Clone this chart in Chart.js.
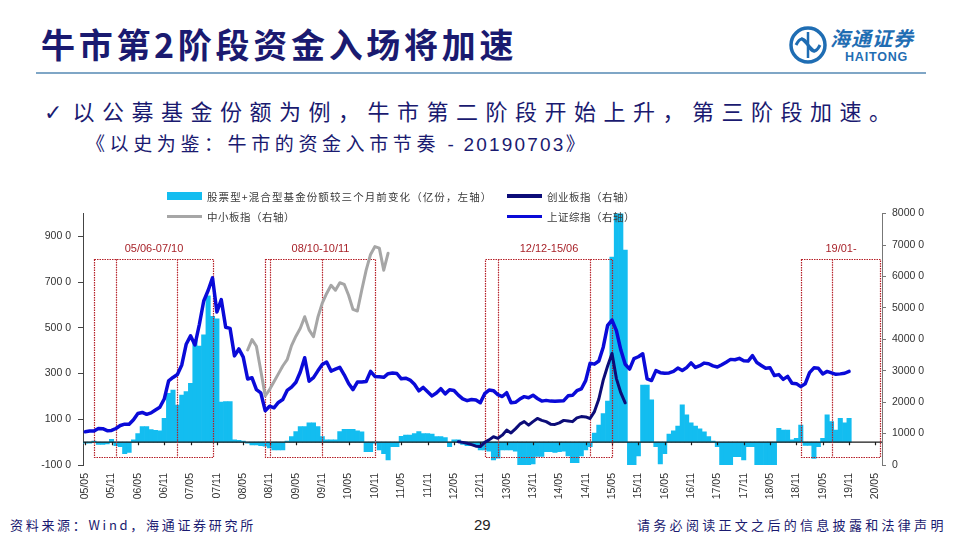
<!DOCTYPE html>
<html lang="zh-CN">
<head>
<meta charset="utf-8">
<title>牛市第2阶段资金入场将加速</title>
<script src="https://cdn.jsdelivr.net/npm/chart.js@4.4.1/dist/chart.umd.min.js"></script>
<style>
  html, body { margin: 0; padding: 0; background: #fff; }
  #page { position: relative; width: 960px; height: 540px; overflow: hidden; font-family: "Noto Sans CJK SC", sans-serif; }
  .abs { position: absolute; white-space: nowrap; }
  #title { left: 41px; top: 24px; font-size: 34px; line-height: 40px; font-weight: bold; color: #1a1a70; letter-spacing: 3.7px; }
  #rule { left: 36px; top: 72px; width: 890px; height: 2px; background: #7fa6c6; }
  #brand-cn { left: 830px; top: 25px; font-size: 20px; line-height: 26px; font-style: italic; font-weight: bold; color: #1f6db3; letter-spacing: 1px; }
  #brand-en { left: 845px; top: 50px; font-family: Arial, "Liberation Sans", sans-serif; font-size: 12.5px; line-height: 14px; font-weight: bold; color: #1f6db3; letter-spacing: 0.8px; }
  #logo { left: 788px; top: 25px; }
  #bullet { left: 44px; top: 94px; font-size: 22px; line-height: 32px; color: #1a1a70; letter-spacing: 7.5px; }
  #bullet .tick { font-family: "DejaVu Sans", sans-serif; margin-right: 10px; letter-spacing: 0; }
  #source-note { left: 86px; top: 130px; font-size: 19px; line-height: 26px; color: #1a1a70; letter-spacing: 4.6px; }
  #source-note .num { font-family: Arial, "Liberation Sans", sans-serif; letter-spacing: 2.2px; }
  #chartBox { left: 0; top: 200px; width: 960px; height: 310px; }
  #legend { left: 0; top: 0; width: 960px; height: 230px; pointer-events: none; z-index: 2; }
  .lg { position: absolute; display: flex; align-items: center; height: 14px; font-size: 10.5px; color: #3a3a3a; letter-spacing: 0.5px; }
  .lg.wide { letter-spacing: 1.1px; }
  .lg i { display: inline-block; width: 35px; margin-right: 5px; }
  #foot-left { left: 10px; top: 515px; font-size: 13px; line-height: 20px; color: #1a1a70; letter-spacing: 2.7px; }
  #foot-mid { left: 474px; top: 515px; font-family: Arial, "Liberation Sans", sans-serif; font-size: 15px; line-height: 20px; color: #222; }
  #foot-right { left: 637px; top: 515px; font-size: 13px; line-height: 20px; color: #1a1a70; letter-spacing: 3.3px; }
</style>
</head>
<body>
<div id="page">
  <div id="title" class="abs">牛市第2阶段资金入场将加速</div>
  <div id="rule" class="abs"></div>
  <svg id="logo" class="abs" width="40" height="40" viewBox="0 0 40 40">
    <circle cx="20" cy="20" r="17" fill="none" stroke="#1f6db3" stroke-width="3.5"/>
    <path d="M8 20 C12 12, 16 12, 20 20 S28 28, 32 20" fill="none" stroke="#1f6db3" stroke-width="3"/>
    <path d="M20 7 L20 33 M13 13 L27 27" fill="none" stroke="#1f6db3" stroke-width="2.5"/>
  </svg>
  <div id="brand-cn" class="abs">海通证券</div>
  <div id="brand-en" class="abs">HAITONG</div>
  <div id="bullet" class="abs"><span class="tick">✓</span>以公募基金份额为例，牛市第二阶段开始上升，第三阶段加速。</div>
  <div id="source-note" class="abs">《以史为鉴：牛市的资金入市节奏<span class="num"> - 20190703</span>》</div>
  <div id="chartBox" class="abs"><canvas id="chart" width="960" height="310"></canvas></div>
  <div id="legend" class="abs"></div>
  <div id="foot-left" class="abs">资料来源：Wind，海通证券研究所</div>
  <div id="foot-mid" class="abs">29</div>
  <div id="foot-right" class="abs">请务必阅读正文之后的信息披露和法律声明</div>
</div>
<script>
"use strict";
// monthly categories, 2005/05 - 2020/06
const MONTHS = [
    "05/05", "05/06", "05/07", "05/08", "05/09", "05/10", "05/11", "05/12",
    "06/01", "06/02", "06/03", "06/04", "06/05", "06/06", "06/07", "06/08", "06/09", "06/10", "06/11", "06/12",
    "07/01", "07/02", "07/03", "07/04", "07/05", "07/06", "07/07", "07/08", "07/09", "07/10", "07/11", "07/12",
    "08/01", "08/02", "08/03", "08/04", "08/05", "08/06", "08/07", "08/08", "08/09", "08/10", "08/11", "08/12",
    "09/01", "09/02", "09/03", "09/04", "09/05", "09/06", "09/07", "09/08", "09/09", "09/10", "09/11", "09/12",
    "10/01", "10/02", "10/03", "10/04", "10/05", "10/06", "10/07", "10/08", "10/09", "10/10", "10/11", "10/12",
    "11/01", "11/02", "11/03", "11/04", "11/05", "11/06", "11/07", "11/08", "11/09", "11/10", "11/11", "11/12",
    "12/01", "12/02", "12/03", "12/04", "12/05", "12/06", "12/07", "12/08", "12/09", "12/10", "12/11", "12/12",
    "13/01", "13/02", "13/03", "13/04", "13/05", "13/06", "13/07", "13/08", "13/09", "13/10", "13/11", "13/12",
    "14/01", "14/02", "14/03", "14/04", "14/05", "14/06", "14/07", "14/08", "14/09", "14/10", "14/11", "14/12",
    "15/01", "15/02", "15/03", "15/04", "15/05", "15/06", "15/07", "15/08", "15/09", "15/10", "15/11", "15/12",
    "16/01", "16/02", "16/03", "16/04", "16/05", "16/06", "16/07", "16/08", "16/09", "16/10", "16/11", "16/12",
    "17/01", "17/02", "17/03", "17/04", "17/05", "17/06", "17/07", "17/08", "17/09", "17/10", "17/11", "17/12",
    "18/01", "18/02", "18/03", "18/04", "18/05", "18/06", "18/07", "18/08", "18/09", "18/10", "18/11", "18/12",
    "19/01", "19/02", "19/03", "19/04", "19/05", "19/06", "19/07", "19/08", "19/09", "19/10", "19/11", "19/12",
    "20/01", "20/02", "20/03", "20/04", "20/05", "20/06",
];

// 股票型+混合型基金份额较三个月前变化 (亿份), from 05/05
const FUND_CHANGE = [
    -5, -5, 5, -10, -10, -8, 12, -15,
    -20, -50, -45, 10, 38, 68, 68, 55, 52, 50, 104, 214,
    228, 162, 206, 221, 257, 447, 420, 470, 640, 550, 540, 175,
    178, 178, 10, 8, 5, -5, -12, -12, -15, -18, -25, -34,
    -34, -34, 5, 24, 46, 68, 68, 85, 85, 68, 24, 10,
    10, 10, 46, 56, 56, 56, 50, 45, -42, -42, -5, -34,
    -50, -78, -20, -20, 25, 31, 31, 38, 46, 38, 38, 35,
    24, 24, 20, -20, 10, 10, -10, -15, -15, -15, -34, -34,
    -40, -78, -70, -34, -34, -34, -40, -110, -110, -110, -95, -63,
    -63, -42, -42, -45, -42, -40, -60, -90, -90, -60, -34, -20,
    40, 75, 125, 180, 810, 1100, 1100, 840, -110, -110, -60, 250,
    250, 185, -20, -95, -50, 35, 50, 70, 163, 120, 85, 70,
    58, 45, 24, 5, -20, -110, -110, -110, -64, -64, -78, -20,
    -20, -110, -110, -110, -110, -100, 60, 53, 53, 10, 17, 75,
    -14, -14, -71, -20, 17, 119, 90, 53, 104, 85, 104,
];

// 上证综指, from 05/05
const SHANGHAI = [
    1060, 1081, 1083, 1162, 1155, 1093, 1099, 1161,
    1258, 1299, 1298, 1440, 1641, 1672, 1612, 1658, 1752, 1837, 2099, 2675,
    2786, 2881, 3183, 3841, 4109, 3820, 4471, 5218, 5552, 5954, 4871, 5261,
    4383, 4348, 3472, 3693, 3433, 2736, 2775, 2397, 2293, 1728, 1871, 1820,
    1991, 2082, 2373, 2477, 2633, 2959, 3412, 2668, 2779, 2996, 3195, 3277,
    2989, 3052, 3110, 2871, 2592, 2398, 2638, 2639, 2656, 2979, 2820, 2808,
    2791, 2906, 2928, 2912, 2743, 2762, 2702, 2568, 2359, 2469, 2333, 2199,
    2293, 2429, 2263, 2397, 2373, 2225, 2103, 2047, 2086, 2069, 1980, 2269,
    2385, 2366, 2237, 2178, 2301, 1979, 1994, 2098, 2175, 2141, 2221, 2116,
    2033, 2056, 2033, 2026, 2039, 2048, 2202, 2217, 2364, 2420, 2683, 3235,
    3210, 3310, 3748, 4442, 4612, 4277, 3664, 3206, 3053, 3383, 3445, 3539,
    2738, 2688, 3004, 2938, 2917, 2930, 2979, 3085, 3005, 3100, 3250, 3104,
    3159, 3242, 3223, 3155, 3117, 3192, 3273, 3361, 3349, 3393, 3317, 3307,
    3481, 3259, 3169, 3082, 3095, 2847, 2876, 2725, 2821, 2603, 2588, 2494,
    2585, 2941, 3091, 3078, 2899, 2979, 2933, 2886, 2900, 2920, 2980,
];

// 中小板指, from 08/06
const SME_START = "08/06";
const SME = [
    3660, 3990, 3780, 3000, 2200, 2400, 2650,
    2900, 3150, 3350, 3800, 4100, 4350, 4720, 4300, 4080, 4700, 5150, 5460,
    5720, 5560, 5800, 5750, 5400, 4950, 4900, 5570, 6200, 6700, 6950, 6900,
    6200, 6740,
];

// 创业板指, from 12/06
const CHINEXT_START = "12/06";
const CHINEXT = [
    740, 720, 690, 650, 600, 585, 720,
    800, 900, 850, 950, 1110, 1020, 1150, 1300, 1380, 1270, 1380, 1480,
    1420, 1380, 1300, 1290, 1340, 1420, 1400, 1380, 1500, 1540, 1530, 1480,
    1700, 2100, 2700, 3150, 3550, 2750, 2300, 1980,
];

const LEFT_TICKS = [-100, 100, 300, 500, 700, 900];

// bull-market phase boxes (month edges) and their captions
const PHASE_LABELS = ["05/06-07/10", "08/10-10/11", "12/12-15/06", "19/01-"];
const PHASE_EDGES = [
    ["05/07", "05/12", "07/02", "07/10"],
    ["08/10", "08/11", "09/11", "10/11"],
    ["12/12", "13/03", "14/12", "15/05"],
    ["18/12", "19/07", "20/06"],
];
const PHASE_TOP = 800;
const PHASE_BOTTOM = -65;
const PHASE_CAPTION_AT = 845;

function fromMonth(start, values) {
    const s = MONTHS.indexOf(start);
    return MONTHS.map(function (m, i) {
        const v = values[i - s];
        return i >= s && v !== undefined ? v : null;
    });
}

const phasePlugin = {
    id: "phases",
    afterDatasetDraw(chart, args) {
        if (args.index !== 0) return;
        const ctx = chart.ctx;
        const area = chart.chartArea;
        const x = chart.scales.x;
        const y = chart.scales.y;
        const y0 = y.getPixelForValue(0);
        ctx.save();
        // zero line with half-year ticks
        ctx.strokeStyle = "#1a1a1a";
        ctx.lineWidth = 1.2;
        ctx.beginPath();
        ctx.moveTo(area.left, y0);
        ctx.lineTo(area.right, y0);
        MONTHS.forEach(function (m, i) {
            if (i % 6 === 0) {
                const px = Math.round(x.getPixelForValue(i)) + 0.5;
                ctx.moveTo(px, y0);
                ctx.lineTo(px, y0 + 3);
            }
        });
        ctx.stroke();
        // phase boxes
        const top = y.getPixelForValue(PHASE_TOP);
        const bottom = y.getPixelForValue(PHASE_BOTTOM);
        PHASE_EDGES.forEach(function (edges, k) {
            const xs = edges.map(function (m) {
                return Math.round(x.getPixelForValue(MONTHS.indexOf(m))) + 0.5;
            });
            const l = xs[0];
            const r = xs[xs.length - 1];
            ctx.setLineDash([1.5, 1]);
            ctx.lineWidth = 1.2;
            ctx.strokeStyle = "#b51f27";
            ctx.strokeRect(l, Math.round(top) + 0.5, r - l, Math.round(bottom - top));
            ctx.beginPath();
            xs.slice(1, -1).forEach(function (px) {
                ctx.moveTo(px, top);
                ctx.lineTo(px, bottom);
            });
            ctx.stroke();
            ctx.setLineDash([]);
            ctx.fillStyle = "#a8232a";
            ctx.font = "11px Arial, 'Liberation Sans', sans-serif";
            ctx.textAlign = "center";
            ctx.textBaseline = "middle";
            ctx.fillText(PHASE_LABELS[k], (l + r) / 2, y.getPixelForValue(PHASE_CAPTION_AT));
        });
        ctx.restore();
    },
};

const AXIS_FONT = { family: "Arial, 'Liberation Sans', sans-serif", size: 10.5 };

function drawChart() {
    const data = {
        labels: MONTHS,
        datasets: [
            {
                type: "bar",
                label: "股票型+混合型基金份额较三个月前变化（亿份，左轴）",
                data: fromMonth("05/05", FUND_CHANGE),
                backgroundColor: "#13bdf0",
                barPercentage: 1,
                categoryPercentage: 1,
                yAxisID: "y",
                clip: 0,
                order: 10,
            },
            {
                type: "line",
                label: "创业板指（右轴）",
                data: fromMonth(CHINEXT_START, CHINEXT),
                borderColor: "#0c0c78",
                backgroundColor: "#0c0c78",
                borderWidth: 3,
                pointRadius: 0,
                yAxisID: "y2",
                order: 2,
            },
            {
                type: "line",
                label: "中小板指（右轴）",
                data: fromMonth(SME_START, SME),
                borderColor: "#a6a6a6",
                backgroundColor: "#a6a6a6",
                borderWidth: 3,
                pointRadius: 0,
                yAxisID: "y2",
                order: 3,
            },
            {
                type: "line",
                label: "上证综指（右轴）",
                data: fromMonth("05/05", SHANGHAI),
                borderColor: "#0a0ad8",
                backgroundColor: "#0a0ad8",
                borderWidth: 3.5,
                pointRadius: 0,
                yAxisID: "y2",
                order: 1,
            },
        ],
    };
    const config = {
        data,
        options: {
            responsive: false,
            animation: false,
            layout: { padding: { top: 13.6, left: 0, right: 0, bottom: 0 } },
            plugins: { legend: { display: false }, tooltip: { enabled: false } },
            elements: { line: { borderJoinStyle: "round", borderCapStyle: "round", tension: 0 } },
            scales: {
                x: {
                    type: "category",
                    offset: true,
                    grid: { display: false, drawTicks: false },
                    border: { display: false },
                    ticks: {
                        autoSkip: false,
                        minRotation: 90,
                        maxRotation: 90,
                        padding: 8,
                        color: "#333",
                        font: AXIS_FONT,
                        callback: function (value, index) {
                            return index % 6 === 0 ? MONTHS[index] : "";
                        },
                    },
                    afterFit: function (scale) { scale.height = 45; },
                },
                y: {
                    position: "left",
                    min: -100,
                    max: 1000,
                    grid: { drawOnChartArea: false, tickLength: 5, color: "#444" },
                    border: { color: "#444" },
                    ticks: {
                        padding: 7,
                        color: "#333",
                        font: AXIS_FONT,
                        callback: function (v) { return v + " 0"; },
                    },
                    afterBuildTicks: function (axis) {
                        axis.ticks = LEFT_TICKS.map(function (v) { return { value: v }; });
                    },
                    afterFit: function (scale) { scale.width = 83; },
                },
                y2: {
                    position: "right",
                    min: 0,
                    max: 8000,
                    grid: { drawOnChartArea: false, tickLength: 4, color: "#777" },
                    border: { color: "#777" },
                    ticks: {
                        stepSize: 1000,
                        padding: 6,
                        color: "#333",
                        font: AXIS_FONT,
                        callback: function (v) { return v === 0 ? "0" : v + " 0"; },
                    },
                    afterFit: function (scale) { scale.width = 78; },
                },
            },
        },
        plugins: [phasePlugin],
    };
    const chart = new Chart(document.getElementById("chart"), config);
    buildLegend(chart);
}

// legend laid out as in the slide: two rows, two columns
function buildLegend(chart) {
    const spots = [[167, 189], [507, 189], [167, 209.5], [507, 209.5]];
    const box = document.getElementById("legend");
    chart.data.datasets.forEach(function (ds, i) {
        const item = document.createElement("div");
        item.className = ds.type === "bar" ? "lg wide" : "lg";
        item.style.left = spots[i][0] + "px";
        item.style.top = spots[i][1] + "px";
        const sw = document.createElement("i");
        sw.style.background = ds.backgroundColor;
        sw.style.height = ds.type === "bar" ? "8px" : "3.5px";
        item.appendChild(sw);
        item.appendChild(document.createTextNode(ds.label));
        box.appendChild(item);
    });
}

drawChart();
</script>
</body>
</html>
